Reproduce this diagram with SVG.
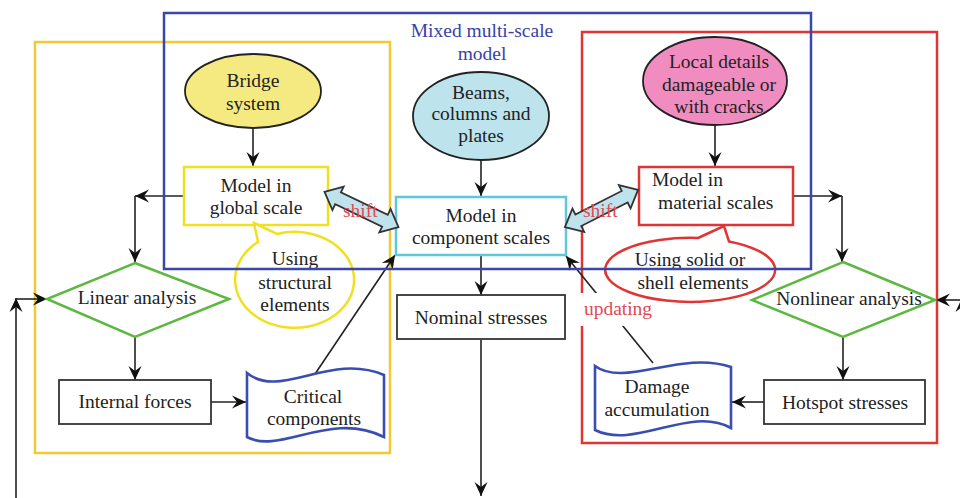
<svg xmlns="http://www.w3.org/2000/svg" width="960" height="498" viewBox="0 0 960 498">
<defs>
<style>
text{font-family:"Liberation Serif","Times New Roman",serif;font-size:19.5px;fill:#222;text-anchor:middle}
.red{fill:#e04a55}
.blueT{fill:#3a42a6}
.box{fill:#fff;stroke:#333;stroke-width:1.8}
.frame{fill:none;stroke-width:2.5}
.con{fill:none;stroke:#222;stroke-width:1.6}
.doc{fill:#fff;stroke:#3a4db0;stroke-width:2.6}
.shift{fill:#bfe3ec;stroke:#333;stroke-width:1.8;stroke-linejoin:miter}
</style>
<marker id="ah" viewBox="-15 -8 16 16" refX="0" refY="0" markerWidth="16" markerHeight="16" markerUnits="userSpaceOnUse" orient="auto">
<path d="M0,0 L-14,-6.5 L-9,0 L-14,6.5 Z" fill="#111"/>
</marker>
</defs>
<rect width="960" height="498" fill="#fff"/>

<g id="frames">
<rect x="35" y="42" width="355" height="411" class="frame" stroke="#f2c930"/>
<rect x="582" y="32" width="355" height="411" class="frame" stroke="#e03535"/>
</g>

<g id="connectors">
<path class="con" d="M253,128 V166" marker-end="url(#ah)"/>
<path class="con" d="M481,160 V196" marker-end="url(#ah)"/>
<path class="con" d="M715,125 V166" marker-end="url(#ah)"/>
<path class="con" d="M184,196 H135" marker-end="url(#ah)"/>
<path class="con" d="M135,196 V262" marker-end="url(#ah)"/>
<path class="con" d="M135,337 V380" marker-end="url(#ah)"/>
<path class="con" d="M211,402 H246" marker-end="url(#ah)"/>
<path class="con" d="M313,377 L395,255" marker-end="url(#ah)"/>
<path class="con" d="M481,255 V295" marker-end="url(#ah)"/>
<path class="con" d="M481,340 V496" marker-end="url(#ah)"/>
<path class="con" d="M793,196 H842" marker-end="url(#ah)"/>
<path class="con" d="M842,196 V262" marker-end="url(#ah)"/>
<path class="con" d="M843,337 V380" marker-end="url(#ah)"/>
<path class="con" d="M764,402 H732" marker-end="url(#ah)"/>
<path class="con" d="M653,363 L566,256" marker-end="url(#ah)"/>
<path class="con" d="M16,498 V298" marker-end="url(#ah)"/>
<path class="con" d="M16,299 H47" marker-end="url(#ah)"/>
<path class="con" d="M962,498 V298" marker-end="url(#ah)"/>
<path class="con" d="M962,300 H936" marker-end="url(#ah)"/>
</g>

<g id="updating-label">
<rect x="579" y="293" width="76" height="33" fill="#fff"/>
<text x="618" y="315" class="red">updating</text>
</g>

<g id="bridge-system">
<ellipse cx="253" cy="91" rx="68" ry="37" fill="#f5ea82" stroke="#222" stroke-width="1.8"/>
<text x="253" y="87">Bridge</text>
<text x="253" y="110">system</text>
</g>

<g id="beams">
<ellipse cx="481" cy="116" rx="68" ry="44" fill="#bde3ec" stroke="#222" stroke-width="1.8"/>
<text x="481" y="99">Beams,</text>
<text x="481" y="120">columns and</text>
<text x="481" y="142">plates</text>
</g>

<g id="local-details">
<ellipse cx="715" cy="81" rx="72" ry="44" fill="#f08cc0" stroke="#222" stroke-width="1.8"/>
<text x="719" y="68">Local details</text>
<text x="719" y="91">damageable or</text>
<text x="719" y="113">with cracks</text>
</g>

<g id="model-global">
<rect x="184" y="167" width="144" height="58" fill="#fff" stroke="#f0e020" stroke-width="2.5"/>
<text x="256" y="192">Model in</text>
<text x="256" y="214">global scale</text>
</g>

<g id="model-component">
<rect x="396" y="197" width="170" height="58" fill="#fff" stroke="#5cc8d8" stroke-width="2.5"/>
<text x="481" y="222">Model in</text>
<text x="481" y="244">component scales</text>
</g>

<g id="model-material">
<rect x="639" y="167" width="154" height="58" fill="#fff" stroke="#e03535" stroke-width="2.5"/>
<text x="652" y="186" style="text-anchor:start">Model in</text>
<text x="658" y="209" style="text-anchor:start">material scales</text>
</g>

<g id="callout-structural">
<path d="M258,242 L254,223 L277,234 A59.5,48 0 1 1 258,242 Z" fill="#fff" stroke="#f0e020" stroke-width="2.5"/>
<text x="295" y="265">Using</text>
<text x="295" y="289">structural</text>
<text x="295" y="311">elements</text>
</g>

<g id="callout-solid">
<path d="M698,238 L724,226 L729,241.4 A85,32 0 1 1 698,238 Z" fill="#fff" stroke="#e03535" stroke-width="2.5"/>
<text x="690" y="266">Using solid or</text>
<text x="693" y="289">shell elements</text>
</g>

<g id="shift-left">
<polygon class="shift" transform="translate(361.5,209.5) rotate(25.6)" points="-41,0 -26,-13 -26,-6.5 26,-6.5 26,-13 41,0 26,13 26,6.5 -26,6.5 -26,13"/>
<text x="343" y="217" class="red" style="text-anchor:start">shift</text>
</g>

<g id="shift-right">
<polygon class="shift" transform="translate(601.5,208.5) rotate(-26.9)" points="-41,0 -26,-13 -26,-6.5 26,-6.5 26,-13 41,0 26,13 26,6.5 -26,6.5 -26,13"/>
<text x="583" y="217" class="red" style="text-anchor:start">shift</text>
</g>

<g id="mixed-frame">
<rect x="164" y="13" width="647" height="256" class="frame" stroke="#3a47a8"/>
<text x="482" y="37" class="blueT">Mixed multi-scale</text>
<text x="482" y="60" class="blueT">model</text>
</g>

<g id="nominal-stresses">
<rect x="397" y="295" width="168" height="44" class="box"/>
<text x="481" y="324">Nominal stresses</text>
</g>

<g id="linear-analysis">
<polygon points="135,263 229,299 135,337 47,299" fill="#fff" stroke="#5cb840" stroke-width="2.5"/>
<text x="137" y="304">Linear analysis</text>
</g>

<g id="nonlinear-analysis">
<polygon points="843,262 935,300 843,337 752,300" fill="#fff" stroke="#5cb840" stroke-width="2.5"/>
<text x="849" y="305">Nonlinear analysis</text>
</g>

<g id="internal-forces">
<rect x="59" y="380" width="152" height="44" class="box"/>
<text x="135" y="408">Internal forces</text>
</g>

<g id="critical-components">
<path class="doc" d="M247,373 C280,400 330,352 384,375 V437 C330,410 280,455 247,437 Z"/>
<text x="313" y="403">Critical</text>
<text x="314" y="425">components</text>
</g>

<g id="hotspot-stresses">
<rect x="764" y="380" width="161" height="44" class="box"/>
<text x="845" y="409">Hotspot stresses</text>
</g>

<g id="damage-accumulation">
<path class="doc" d="M595,366 C625,388 680,350 731,367 V428 C690,405 635,450 595,430 Z"/>
<text x="657" y="393">Damage</text>
<text x="657" y="416">accumulation</text>
</g>
</svg>
